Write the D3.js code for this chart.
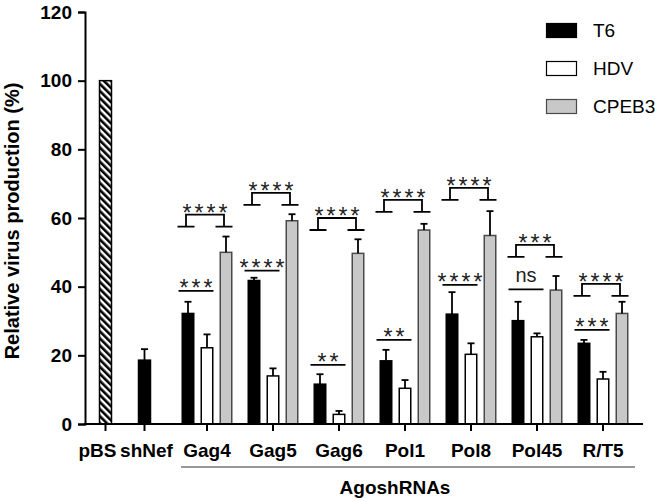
<html lang="en">
<head>
<meta charset="utf-8">
<title>Relative virus production</title>
<style>
  body { margin: 0; background: white; }
  svg { font-family: "Liberation Sans", Arial, sans-serif; }
  .axis path, .axis line { stroke: black; stroke-width: 2; fill: none; }
  .axis text { font-size: 19px; font-weight: bold; fill: black; font-family: "Liberation Sans", Arial, sans-serif; }
</style>
</head>
<body>
<script src="https://cdnjs.cloudflare.com/ajax/libs/d3/7.8.5/d3.min.js"></script>
<script>
// control bars
var controls = ["pBS", "shNef"];
var controlValues = [100, 18.6];
var controlErr = [0, 3.2];

// AgoshRNA groups
var groups = ["Gag4", "Gag5", "Gag6", "Pol1", "Pol8", "Pol45", "R/T5"];
var series = ["T6", "HDV", "CPEB3"];
var t6 = [32.2, 41.8, 11.6, 18.4, 32.0, 30.1, 23.5];
var t6Err = [3.4, 0.8, 2.9, 3.2, 6.4, 5.5, 1.0];
var hdv = [22.2, 14.0, 2.8, 10.4, 20.3, 25.4, 13.1];
var hdvErr = [3.9, 2.2, 1.0, 2.4, 3.2, 1.0, 2.1];
var cpeb3 = [50.0, 59.2, 49.7, 56.5, 54.9, 39.0, 32.2];
var cpeb3Err = [4.6, 1.9, 4.1, 1.8, 7.1, 4.1, 3.4];

// significance marks (T6 vs HDV, T6 vs CPEB3) and the level they sit at
var sigHdv = ["***", "****", "**", "**", "****", "ns", "***"];
var sigHdvLevel = [38.8, 44.7, 17.2, 24.5, 40.5, 39.2, 27.4];
var sigCpeb3 = ["****", "****", "****", "****", "****", "***", "****"];
var sigCpeb3Level = [57.5, 63.8, 56.5, 61.8, 65.3, 48.7, 37.3];

var yTicks = [0, 20, 40, 60, 80, 100, 120];

var fills = { T6: "#000000", HDV: "#ffffff", CPEB3: "#c8c8c8" };
var strokes = { T6: "#000000", HDV: "#000000", CPEB3: "#4a4a4a" };

var width = 660, height = 501;
var svg = d3.select("body").append("svg")
    .attr("width", width)
    .attr("height", height);

var defs = svg.append("defs");
var hatch = defs.append("pattern")
    .attr("id", "hatch")
    .attr("patternUnits", "userSpaceOnUse")
    .attr("width", 5)
    .attr("height", 5)
    .attr("patternTransform", "rotate(-45)");
hatch.append("rect").attr("width", 5).attr("height", 5).attr("fill", "white");
hatch.append("rect").attr("width", 2.6).attr("height", 5).attr("fill", "black");

// scales
var y = d3.scaleLinear().domain([0, 120]).range([424, 12]);
var xCtrl = d3.scaleBand().domain(controls).range([86, 164]);
var xGroup = d3.scaleBand().domain(groups).range([174, 636]);
var xSeries = d3.scaleBand().domain(series).range([-25.5, 25.5]).paddingInner(0.316);
var bw = xSeries.bandwidth();

function ctrlCenter(c) { return xCtrl(c) + xCtrl.bandwidth() / 2; }
function groupCenter(g) { return xGroup(g) + xGroup.bandwidth() / 2; }

function errBar(cx, v, e) {
    svg.append("line")
        .attr("x1", cx).attr("x2", cx)
        .attr("y1", y(v)).attr("y2", y(v + e))
        .attr("stroke", "black").attr("stroke-width", 1.8);
    svg.append("line")
        .attr("x1", cx - 3.5).attr("x2", cx + 3.5)
        .attr("y1", y(v + e)).attr("y2", y(v + e))
        .attr("stroke", "black").attr("stroke-width", 1.8);
}

function stars(x, yy, txt) {
    svg.append("text")
        .attr("x", x + 1.5)
        .attr("y", yy)
        .attr("text-anchor", "middle")
        .attr("font-size", 23)
        .attr("letter-spacing", 3)
        .attr("fill", "#222")
        .text(txt);
}

// bars for controls
controls.forEach(function(c, i) {
    var cx = ctrlCenter(c);
    svg.append("rect")
        .attr("x", cx - bw / 2 + 0.5)
        .attr("y", y(controlValues[i]))
        .attr("width", bw - 1)
        .attr("height", y(0) - y(controlValues[i]))
        .attr("fill", i == 0 ? "url(#hatch)" : "black")
        .attr("stroke", "black")
        .attr("stroke-width", 1.5);
    if (controlErr[i] > 0) errBar(cx, controlValues[i], controlErr[i]);
});

var values = { T6: t6, HDV: hdv, CPEB3: cpeb3 };
var errs = { T6: t6Err, HDV: hdvErr, CPEB3: cpeb3Err };

groups.forEach(function(g, gi) {
    var gc = groupCenter(g);
    series.forEach(function(s) {
        var x0 = gc + xSeries(s);
        var v = values[s][gi];
        svg.append("rect")
            .attr("x", x0 + 0.75)
            .attr("y", y(v))
            .attr("width", bw - 1.5)
            .attr("height", y(0) - y(v))
            .attr("fill", fills[s])
            .attr("stroke", strokes[s])
            .attr("stroke-width", 1.5);
        errBar(x0 + bw / 2, v, errs[s][gi]);
    });

    // T6 vs HDV line
    var xa = gc + xSeries("T6") - 3;
    var xb = gc + xSeries("HDV") + bw;
    var ly = y(sigHdvLevel[gi]);
    svg.append("line")
        .attr("x1", xa).attr("x2", xb).attr("y1", ly).attr("y2", ly)
        .attr("stroke", "black").attr("stroke-width", 1.8);
    if (sigHdv[gi] == "ns") {
        svg.append("text")
            .attr("x", (xa + xb) / 2)
            .attr("y", ly - 7)
            .attr("text-anchor", "middle")
            .attr("font-size", 20)
            .attr("fill", "#222")
            .text(sigHdv[gi]);
    } else {
        stars((xa + xb) / 2, ly + 5, sigHdv[gi]);
    }

    // T6 vs CPEB3 bracket
    var by = y(sigCpeb3Level[gi]);
    var l0 = gc + xSeries("T6") - 4, l1 = gc + xSeries("T6") + bw;
    var r0 = gc + xSeries("CPEB3") - 4, r1 = gc + xSeries("CPEB3") + bw;
    var lm = (l0 + l1) / 2, rm = (r0 + r1) / 2;
    svg.append("path")
        .attr("d", "M" + l0 + "," + by + "H" + l1 +
                   "M" + lm + "," + by + "V" + (by - 12) + "H" + rm + "V" + by +
                   "M" + r0 + "," + by + "H" + r1)
        .attr("fill", "none")
        .attr("stroke", "black")
        .attr("stroke-width", 1.8);
    stars((lm + rm) / 2, by - 12 + 6, sigCpeb3[gi]);
});

// y axis
var yAxis = d3.axisLeft(y).tickValues(yTicks).tickSize(7).tickPadding(6);
svg.append("g")
    .attr("class", "axis")
    .attr("transform", "translate(85,0)")
    .call(yAxis);

// x axis
var xAll = controls.map(ctrlCenter).concat(groups.map(groupCenter));
var xLabels = controls.concat(groups);
var xAxisG = svg.append("g").attr("class", "axis");
xAxisG.append("line")
    .attr("x1", 84).attr("x2", 643).attr("y1", y(0)).attr("y2", y(0));
xAll.forEach(function(px, i) {
    xAxisG.append("line")
        .attr("x1", px).attr("x2", px).attr("y1", y(0)).attr("y2", y(0) + 7);
    xAxisG.append("text")
        .attr("x", px + (i == 0 ? -8 : i == 1 ? 2 : 0))
        .attr("y", 457)
        .attr("text-anchor", "middle")
        .text(xLabels[i]);
});

// AgoshRNAs underline and title
svg.append("line")
    .attr("x1", 181).attr("x2", 635).attr("y1", 467).attr("y2", 467)
    .attr("stroke", "#333").attr("stroke-width", 1.2);
svg.append("text")
    .attr("x", 395).attr("y", 494)
    .attr("text-anchor", "middle")
    .attr("font-size", 19).attr("font-weight", "bold")
    .text("AgoshRNAs");

// y title
svg.append("text")
    .attr("transform", "translate(19,221) rotate(-90)")
    .attr("text-anchor", "middle")
    .attr("font-size", 20).attr("font-weight", "bold")
    .text("Relative virus production (%)");

// legend
var legend = svg.append("g").attr("transform", "translate(546,23)");
series.forEach(function(s, i) {
    var row = legend.append("g").attr("transform", "translate(0," + (i * 38) + ")");
    row.append("rect")
        .attr("x", 0.5).attr("y", 0.5)
        .attr("width", 30).attr("height", 14)
        .attr("fill", fills[s])
        .attr("stroke", strokes[s])
        .attr("stroke-width", 1.2);
    row.append("text")
        .attr("x", 47).attr("y", 14)
        .attr("font-size", 19)
        .text(s);
});
</script>
</body>
</html>
